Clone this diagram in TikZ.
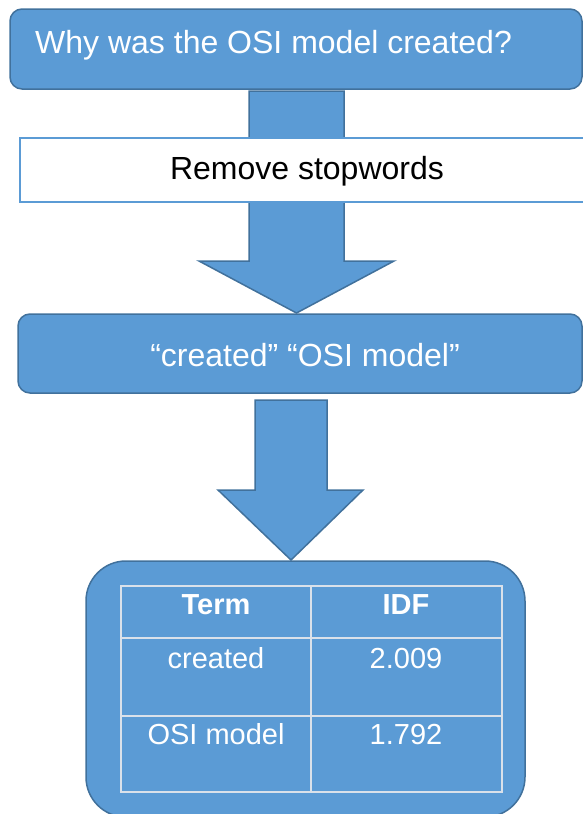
\documentclass[tikz,border=0pt]{standalone}
\usepackage{fontspec}
\setmainfont{Liberation Sans}
\definecolor{fillblue}{RGB}{91,155,213}
\definecolor{edgeblue}{RGB}{65,113,156}
\definecolor{gridgray}{RGB}{218,225,234}
\begin{document}
\begin{tikzpicture}[x=1pt,y=-1pt,
  bluebox/.style={draw=edgeblue, fill=fillblue, line width=1.5pt, rounded corners=12pt},
  whitebox/.style={draw=fillblue, fill=white, line width=2.5pt},
  blockarrow/.style={draw=edgeblue, fill=fillblue, line width=1.5pt, line join=miter},
  boxtext/.style={text=white, font=\fontsize{32}{36}\selectfont, inner sep=0pt},
  blacktext/.style={text=black, font=\fontsize{32}{36}\selectfont, inner sep=0pt},
  celltext/.style={text=white, font=\fontsize{29}{33}\selectfont, inner sep=0pt, anchor=base},
  gridline/.style={draw=gridgray, line width=2.5pt}
]
\useasboundingbox (0,0) rectangle (583,814);
\begin{scope}
\clip (0,0) rectangle (583,814);
% top question box
\path[bluebox] (10,9) rectangle (582,89);
\node[boxtext, anchor=base west] (qtext) at (35,53) {Why was the OSI model created?};
% first block arrow
\path[blockarrow] (249,91) -- (344,91) -- (344,261) -- (394,261) -- (296.5,313) -- (199,261) -- (249,261) -- cycle;
% remove stopwords box
\path[whitebox] (20,138) rectangle (590,202);
\node[blacktext, anchor=base] (rstext) at (307,179) {Remove stopwords};
% second box
\path[bluebox] (18,314) rectangle (582,393);
\node[boxtext, anchor=base] (ktext) at (305,366) {“created” “OSI model”};
% second block arrow
\path[blockarrow] (255,400) -- (327,400) -- (327,490) -- (363,490) -- (291,560) -- (218,490) -- (255,490) -- cycle;
% bottom box
\path[bluebox, rounded corners=40pt] (86,561) rectangle (525,817);
% table
\draw[gridline] (121,586) rectangle (502,792);
\draw[gridline] (311,586) -- (311,792);
\draw[gridline] (121,638) -- (502,638);
\draw[gridline] (121,716) -- (502,716);
\node[celltext, font=\fontsize{29}{33}\selectfont\bfseries] (hterm) at (216,614) {Term};
\node[celltext, font=\fontsize{29}{33}\selectfont\bfseries] (hidf) at (406,614) {IDF};
\node[celltext] (c1) at (216,668) {created};
\node[celltext] (v1) at (406,668) {2.009};
\node[celltext] (c2) at (216,744) {OSI model};
\node[celltext] (v2) at (406,744) {1.792};
\end{scope}
\end{tikzpicture}
\end{document}
